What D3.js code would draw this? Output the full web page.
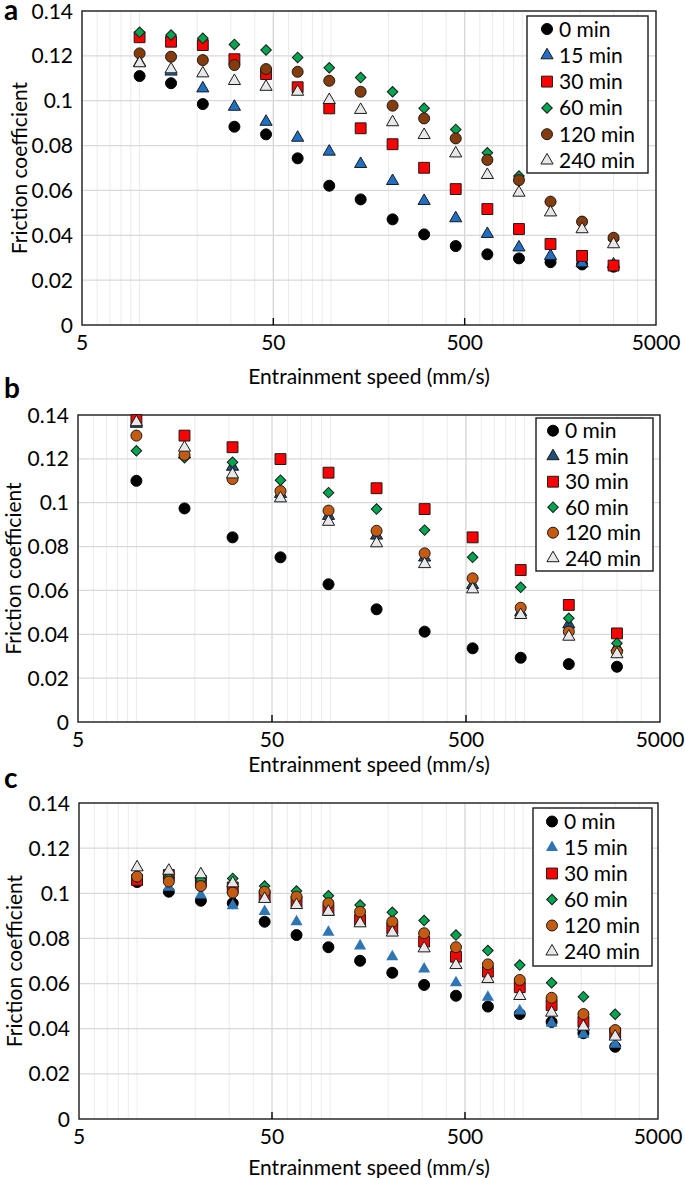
<!DOCTYPE html>
<html>
<head>
<meta charset="utf-8">
<script src="https://cdn.jsdelivr.net/npm/d3@7"></script>
<style>
  body { margin: 0; background: #fff; }
  svg text { font-family: Lato, "Open Sans", sans-serif; fill: #000; }
</style>
</head>
<body>
<svg id="chart" width="685" height="1178"></svg>
<script>
// entrainment speeds (mm/s)
let speedsAC = [10, 14.6, 21.4, 31.3, 45.8, 67, 98, 143, 210, 307, 449, 657, 961, 1405, 2054, 3000];
let speedsB = [10, 17.7, 31.3, 55.3, 97.8, 173, 306, 541, 957, 1694, 3000];

let seriesNames = ["0 min", "15 min", "30 min", "60 min", "120 min", "240 min"];
let xTicks = [5, 50, 500, 5000];
let yTicks = [0, 0.02, 0.04, 0.06, 0.08, 0.1, 0.12, 0.14];

// panel a
let a0   = [0.111, 0.1078, 0.0985, 0.0884, 0.085, 0.0743, 0.0621, 0.056, 0.0471, 0.0404, 0.0352, 0.0315, 0.0297, 0.028, 0.027, 0.026];
let a15  = [0.117, 0.113, 0.1055, 0.0973, 0.0906, 0.0835, 0.0773, 0.0718, 0.0642, 0.0553, 0.0476, 0.0406, 0.0346, 0.0308, 0.0275, 0.027];
let a30  = [0.1283, 0.1263, 0.1248, 0.1185, 0.1119, 0.106, 0.0966, 0.0877, 0.0806, 0.0701, 0.0606, 0.0517, 0.0428, 0.0361, 0.0308, 0.0265];
let a60  = [0.1305, 0.1293, 0.1278, 0.1251, 0.1226, 0.1193, 0.1147, 0.1103, 0.104, 0.0966, 0.0872, 0.0768, 0.0664, 0.055, 0.046, 0.038];
let a120 = [0.1211, 0.1196, 0.1181, 0.1159, 0.1141, 0.1129, 0.1089, 0.104, 0.0978, 0.0921, 0.0832, 0.0736, 0.0646, 0.055, 0.0461, 0.0389];
let a240 = [0.1167, 0.114, 0.1122, 0.1088, 0.1062, 0.104, 0.1003, 0.0959, 0.0904, 0.0847, 0.0765, 0.0669, 0.059, 0.0502, 0.0427, 0.036];

// panel b
let b0   = [0.110, 0.0974, 0.0842, 0.0751, 0.0628, 0.0514, 0.0412, 0.0336, 0.0293, 0.0264, 0.0252];
let b15  = [0.136, 0.122, 0.1164, 0.104, 0.094, 0.085, 0.075, 0.0625, 0.050, 0.0445, 0.034];
let b30  = [0.1377, 0.1306, 0.1253, 0.1199, 0.1137, 0.1066, 0.0971, 0.0842, 0.0693, 0.0534, 0.0404];
let b60  = [0.1237, 0.1205, 0.1184, 0.1103, 0.1046, 0.0971, 0.0875, 0.0751, 0.0614, 0.0473, 0.0359];
let b120 = [0.1306, 0.1218, 0.1108, 0.1053, 0.0964, 0.0872, 0.0769, 0.0655, 0.0521, 0.0412, 0.0321];
let b240 = [0.1367, 0.1251, 0.1129, 0.102, 0.0913, 0.0815, 0.072, 0.0605, 0.0488, 0.0389, 0.0309];

// panel c
let c0   = [0.105, 0.1007, 0.0967, 0.0956, 0.0874, 0.0815, 0.0761, 0.0701, 0.0648, 0.0594, 0.0546, 0.0498, 0.0465, 0.043, 0.038, 0.032];
let c15  = [0.1049, 0.1027, 0.0992, 0.0945, 0.0919, 0.0874, 0.0827, 0.0767, 0.0719, 0.0665, 0.0604, 0.0539, 0.0479, 0.0424, 0.0375, 0.0331];
let c30  = [0.1059, 0.1081, 0.1055, 0.1026, 0.0988, 0.0963, 0.0926, 0.0882, 0.0845, 0.0786, 0.0719, 0.0653, 0.0584, 0.0505, 0.0431, 0.038];
let c60  = [0.107, 0.107, 0.106, 0.1066, 0.1032, 0.101, 0.0989, 0.0948, 0.0916, 0.0879, 0.0815, 0.0746, 0.0682, 0.0604, 0.0542, 0.0464];
let c120 = [0.1074, 0.1052, 0.1032, 0.1003, 0.1007, 0.0985, 0.0956, 0.0918, 0.0874, 0.0823, 0.0761, 0.0685, 0.0616, 0.0537, 0.0465, 0.0394];
let c240 = [0.1115, 0.110, 0.1084, 0.1044, 0.0975, 0.0948, 0.0918, 0.0867, 0.0826, 0.0756, 0.0682, 0.062, 0.0545, 0.0471, 0.0409, 0.0365];

let svg = d3.select("#chart");
let fontSize = 21;

let shapes = ["circle", "triangle", "square", "diamond", "circle", "triangle"];

function symbolPath(shape)
{
    if(shape == "circle") return d3.symbol(d3.symbolCircle, 95)();
    if(shape == "triangle") return d3.symbol(d3.symbolTriangle, 64)();
    if(shape == "square") return d3.symbol(d3.symbolSquare, 118)();
    return d3.symbol(d3.symbolSquare, 56)();
}

function drawPanel(p)
{
    let x = d3.scaleLog().domain([5, 5000]).range([p.left, p.right]);
    let y = d3.scaleLinear().domain([0, 0.14]).range([p.bottom, p.top]);
    let g = svg.append("g");

    // minor vertical grid (2..9 of each decade)
    let minor = [];
    [1, 10, 100, 1000].forEach(function(dec){
        for(let k = 1; k <= 9; k++) {
            let v = dec * k;
            if(v > 5 && v < 5000 && v != 50 && v != 500) minor.push(v);
        }
    });
    g.selectAll(".minor").data(minor).enter().append("line")
        .attr("x1", d => x(d)).attr("x2", d => x(d))
        .attr("y1", p.top).attr("y2", p.bottom)
        .attr("stroke", "#ebebeb").attr("stroke-width", 1);

    g.selectAll(".hgrid").data(yTicks.slice(1, -1)).enter().append("line")
        .attr("x1", p.left).attr("x2", p.right)
        .attr("y1", d => y(d)).attr("y2", d => y(d))
        .attr("stroke", "#d9d9d9").attr("stroke-width", 1.2);

    g.selectAll(".major").data([50, 500]).enter().append("line")
        .attr("x1", d => x(d)).attr("x2", d => x(d))
        .attr("y1", p.top).attr("y2", p.bottom)
        .attr("stroke", "#d6d6d6").attr("stroke-width", 1.3);

    // frame
    g.append("rect")
        .attr("x", p.left).attr("y", p.top)
        .attr("width", p.right - p.left).attr("height", p.bottom - p.top)
        .attr("fill", "none").attr("stroke", "#1a1a1a").attr("stroke-width", 1.4);

    g.selectAll(".tk").data([50, 500]).enter().append("line")
        .attr("x1", d => x(d)).attr("x2", d => x(d))
        .attr("y1", p.bottom).attr("y2", p.bottom - 7)
        .attr("stroke", "#000").attr("stroke-width", 1.4);

    // tick labels
    g.selectAll(".xl").data(xTicks).enter().append("text")
        .attr("x", d => x(d)).attr("y", p.bottom + 25)
        .attr("text-anchor", "middle").attr("font-size", fontSize)
        .text(d => d);
    g.selectAll(".yl").data(yTicks).enter().append("text")
        .attr("x", p.left - 9).attr("y", d => y(d) + 7.5)
        .attr("text-anchor", "end").attr("font-size", fontSize)
        .text(d => d == 0 ? "0" : d3.format("")(+d.toFixed(2)));

    // axis titles
    g.append("text")
        .attr("transform", "translate(" + p.yTitleX + "," + ((p.top + p.bottom) / 2) + ") rotate(-90)")
        .attr("text-anchor", "middle").attr("dominant-baseline", "central")
        .attr("font-size", fontSize)
        .text("Friction coefficient");
    g.append("text")
        .attr("x", 369).attr("y", p.xTitleY)
        .attr("text-anchor", "middle").attr("font-size", fontSize)
        .text("Entrainment speed (mm/s)");

    // panel letter
    g.append("text")
        .attr("x", 4).attr("y", p.letterY)
        .attr("font-family", "'Liberation Serif', 'DejaVu Serif', serif")
        .attr("font-weight", "bold").attr("font-size", 28)
        .text(p.letter);

    // points
    p.series.forEach(function(vals, i){
        g.selectAll(".pt" + i).data(vals).enter().append("path")
            .attr("d", symbolPath(shapes[i]))
            .attr("transform", (d, j) => "translate(" + x(p.speeds[j]) + "," + y(d) + ")" + (shapes[i] == "diamond" ? " rotate(45)" : ""))
            .attr("fill", p.colors[i])
            .attr("stroke", p.strokes[i])
            .attr("stroke-width", 1);
    });

    // legend
    let L = p.legend;
    g.append("rect")
        .attr("x", L.x).attr("y", L.y)
        .attr("width", L.w).attr("height", L.h)
        .attr("fill", "#fff").attr("stroke", "#1a1a1a").attr("stroke-width", 1.4);
    seriesNames.forEach(function(name, i){
        let ry = L.y + L.first + i * L.step;
        g.append("path")
            .attr("d", symbolPath(shapes[i]))
            .attr("transform", "translate(" + L.mx + "," + ry + ")" + (shapes[i] == "diamond" ? " rotate(45)" : ""))
            .attr("fill", p.colors[i])
            .attr("stroke", p.strokes[i])
            .attr("stroke-width", 1);
        g.append("text")
            .attr("x", L.mx + 12).attr("y", ry + 7.5)
            .attr("font-size", fontSize)
            .text(name);
    });
}

drawPanel({
    letter: "a", letterY: 20,
    left: 82, right: 656, top: 11, bottom: 325,
    yTitleX: 18, xTitleY: 384,
    speeds: speedsAC,
    series: [a0, a15, a30, a60, a120, a240],
    colors: ["#000000", "#1f6fc5", "#ff0000", "#00a550", "#843c0c", "#e8e8e8"],
    strokes: ["#000", "#1a1a1a", "#1a1a1a", "#1a1a1a", "#1a1a1a", "#1a1a1a"],
    legend: {x: 527, y: 16, w: 121, h: 157, first: 13, step: 26.3, mx: 547}
});

drawPanel({
    letter: "b", letterY: 398,
    left: 78, right: 660, top: 415, bottom: 722,
    yTitleX: 12, xTitleY: 772,
    speeds: speedsB,
    series: [b0, b15, b30, b60, b120, b240],
    colors: ["#000000", "#1f4e79", "#ff0000", "#00a550", "#c55a11", "#e8e8e8"],
    strokes: ["#000", "#1a1a1a", "#1a1a1a", "#1a1a1a", "#1a1a1a", "#1a1a1a"],
    legend: {x: 536, y: 418, w: 117, h: 153, first: 12.7, step: 25.5, mx: 553}
});

drawPanel({
    letter: "c", letterY: 788,
    left: 79, right: 658, top: 803, bottom: 1119,
    yTitleX: 13, xTitleY: 1175,
    speeds: speedsAC,
    series: [c0, c15, c30, c60, c120, c240],
    colors: ["#000000", "#2e75b6", "#ff0000", "#00a550", "#c55a11", "#e8e8e8"],
    strokes: ["#000", "none", "#1a1a1a", "#1a1a1a", "#1a1a1a", "#1a1a1a"],
    legend: {x: 533, y: 808, w: 119, h: 158, first: 13.5, step: 26, mx: 552}
});
</script>
</body>
</html>
